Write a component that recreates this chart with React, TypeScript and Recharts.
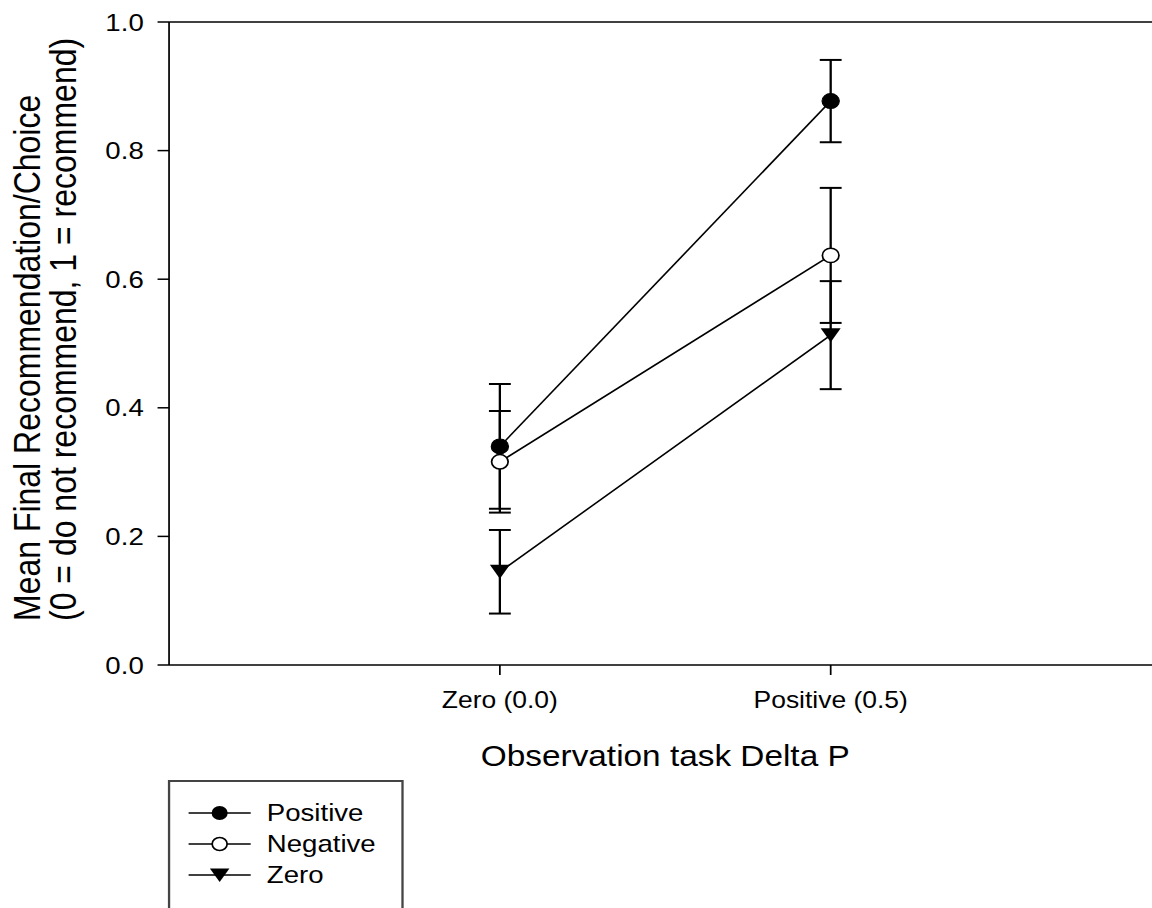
import React from 'react';
import {
  LineChart,
  Line,
  XAxis,
  YAxis,
  ErrorBar,
  ReferenceLine,
  Legend,
} from 'recharts';

// category positions on the x axis (1, 2 on a 0..3 scale)
const categories = ['Zero (0.0)', 'Positive (0.5)'];
const yTicks = [0, 0.2, 0.4, 0.6, 0.8, 1.0];

const positiveMean = [0.34, 0.877];
const positiveErr = [0.097, 0.064];
const negativeMean = [0.316, 0.637];
const negativeErr = [0.079, 0.105];
const zeroMean = [0.145, 0.513];
const zeroErr = [0.065, 0.084];

const seriesNames = ['Positive', 'Negative', 'Zero'];

const data = categories.map((name, i) => ({
  x: i + 1,
  name,
  positive: positiveMean[i],
  positiveErr: positiveErr[i],
  negative: negativeMean[i],
  negativeErr: negativeErr[i],
  zero: zeroMean[i],
  zeroErr: zeroErr[i],
}));

const FONT = '"Liberation Sans", Arial, sans-serif';
// the reference figure is stretched horizontally
const STRETCH = 1.15;

const FilledDot = (props: any) => {
  const { cx, cy, index } = props;
  return <circle key={`p-${index}`} cx={cx} cy={cy} r={7.5} fill="#000" stroke="#000" strokeWidth={1} />;
};

const OpenDot = (props: any) => {
  const { cx, cy, index } = props;
  return <circle key={`n-${index}`} cx={cx} cy={cy} r={7.2} fill="#fff" stroke="#000" strokeWidth={1.5} />;
};

const TriangleDot = (props: any) => {
  const { cx, cy, index } = props;
  const w = 8.7;
  const h = 7;
  return (
    <path
      key={`z-${index}`}
      d={`M${cx - w},${cy - h} L${cx + w},${cy - h} L${cx},${cy + h} Z`}
      fill="#000"
    />
  );
};

const LegendBox = () => {
  const rows = [
    { name: seriesNames[0], kind: 'filled' },
    { name: seriesNames[1], kind: 'open' },
    { name: seriesNames[2], kind: 'tri' },
  ];
  return (
    <div style={{ border: '2px solid #444', width: 205, height: 140, background: '#fff', boxSizing: 'border-box' }}>
      <svg width={201} height={136}>
        {rows.map((r, i) => {
          const cy = 31 + i * 31;
          return (
            <g key={r.name}>
              <line x1={16} x2={70} y1={cy} y2={cy} stroke="#000" strokeWidth={1.5} />
              {r.kind === 'filled' && <circle cx={43} cy={cy} r={7} fill="#000" />}
              {r.kind === 'open' && <circle cx={43} cy={cy} r={6.5} fill="#fff" stroke="#000" strokeWidth={1.5} />}
              {r.kind === 'tri' && (
                <path d={`M${43 - 8.5},${cy - 6.5} L${43 + 8.5},${cy - 6.5} L43,${cy + 7} Z`} fill="#000" />
              )}
              <text x={84} y={cy + 8} fontSize={24} fontFamily={FONT} fill="#000">
                {r.name}
              </text>
            </g>
          );
        })}
      </svg>
    </div>
  );
};

const YTitle = () => {
  const startY = 621;
  return (
    <g fontFamily={FONT} fontSize={32} fill="#000">
      <text transform={`translate(35, ${startY}) rotate(-90)`} textAnchor="start">
        Mean Final Recommendation/Choice
      </text>
      <text transform={`translate(66, ${startY}) rotate(-90)`} textAnchor="start">
        (0 = do not recommend, 1 = recommend)
      </text>
    </g>
  );
};

const XTitle = (props: any) => {
  const { viewBox } = props;
  const cx = viewBox ? viewBox.x + viewBox.width / 2 : 578;
  return (
    <text x={cx} y={766} textAnchor="middle" fontFamily={FONT} fontSize={29} fill="#000">
      Observation task Delta P
    </text>
  );
};

export default function App() {
  return (
    <div
      style={{
        position: 'absolute',
        left: 0,
        top: 0,
        width: 1152,
        height: 908,
        overflow: 'hidden',
        background: '#fff',
      }}
    >
      <div style={{ transform: `scaleX(${STRETCH})`, transformOrigin: '0 0', width: 1050, height: 908 }}>
        <LineChart width={1050} height={908} data={data} margin={{ top: 22, right: 40, left: 0, bottom: 0 }}>
          <XAxis
            dataKey="x"
            type="number"
            domain={[0, 3]}
            ticks={[1, 2]}
            tickFormatter={(v: number) => categories[v - 1]}
            height={243}
            tickSize={10}
            tickMargin={17}
            axisLine={{ stroke: '#000', strokeWidth: 1.5 }}
            tickLine={{ stroke: '#000', strokeWidth: 1.5 }}
            tick={{ fill: '#000', fontSize: 23, fontFamily: FONT }}
            label={{ content: XTitle }}
          />
          <YAxis
            type="number"
            domain={[0, 1]}
            ticks={yTicks}
            tickFormatter={(v: number) => v.toFixed(1)}
            width={147}
            tickSize={10}
            tickMargin={12}
            axisLine={{ stroke: '#000', strokeWidth: 1.5 }}
            tickLine={{ stroke: '#000', strokeWidth: 1.5 }}
            tick={{ fill: '#000', fontSize: 24, fontFamily: FONT }}
            label={{ content: YTitle }}
          />
          <ReferenceLine y={1} stroke="#000" strokeWidth={1.5} />
          <Line
            dataKey="positive"
            name={seriesNames[0]}
            stroke="#000"
            strokeWidth={1.5}
            dot={FilledDot}
            isAnimationActive={false}
          >
            <ErrorBar dataKey="positiveErr" direction="y" width={9.5} stroke="#000" strokeWidth={2} />
          </Line>
          <Line
            dataKey="negative"
            name={seriesNames[1]}
            stroke="#000"
            strokeWidth={1.5}
            dot={OpenDot}
            isAnimationActive={false}
          >
            <ErrorBar dataKey="negativeErr" direction="y" width={9.5} stroke="#000" strokeWidth={2} />
          </Line>
          <Line
            dataKey="zero"
            name={seriesNames[2]}
            stroke="#000"
            strokeWidth={1.5}
            dot={TriangleDot}
            isAnimationActive={false}
          >
            <ErrorBar dataKey="zeroErr" direction="y" width={9.5} stroke="#000" strokeWidth={2} />
          </Line>
          <Legend
            layout="horizontal"
            verticalAlign="middle"
            align="center"
            content={LegendBox}
            wrapperStyle={{ left: 146, top: 780, width: 205 }}
          />
        </LineChart>
      </div>
    </div>
  );
}
